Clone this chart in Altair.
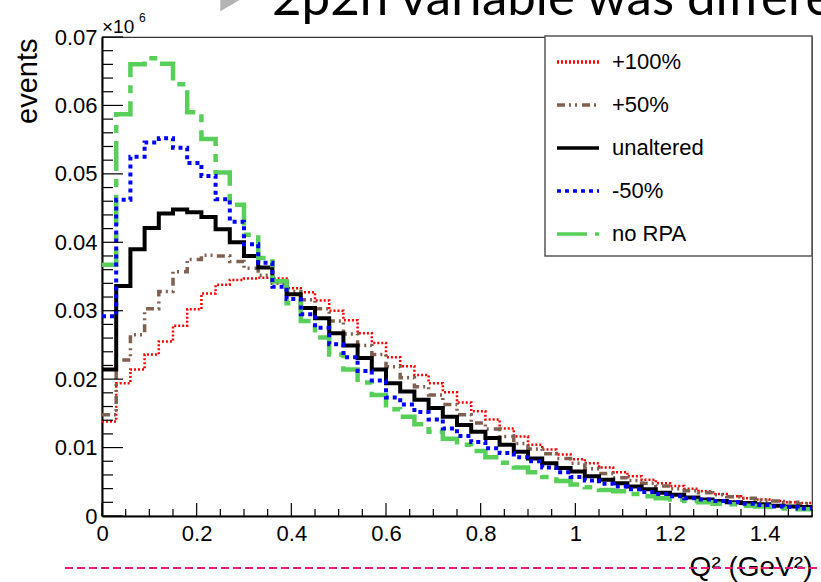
import altair as alt
import pandas as pd

# ---------------- data ----------------
bin_width = 0.03
n_bins = 50
edges = [round(i * bin_width, 4) for i in range(n_bins + 1)]

series_names = ["+100%", "+50%", "unaltered", "-50%", "no RPA"]

red = [0.0138, 0.0194, 0.0214, 0.0236, 0.0255, 0.0278, 0.0302, 0.0325, 0.0338, 0.0345,
       0.0347, 0.0348, 0.0347, 0.0333, 0.0327, 0.0315, 0.0300, 0.0286, 0.0267, 0.0253,
       0.0232, 0.0219, 0.0206, 0.0194, 0.0181, 0.0166, 0.0153, 0.0141, 0.0128, 0.0116,
       0.0104, 0.0097, 0.0090, 0.0083, 0.0077, 0.0071, 0.0064, 0.0058, 0.0053, 0.0048,
       0.0044, 0.0040, 0.0036, 0.0032, 0.0029, 0.0026, 0.0024, 0.0022, 0.0020, 0.0019]
brown = [0.0148, 0.0228, 0.0265, 0.0303, 0.0328, 0.0357, 0.0375, 0.0381, 0.0380, 0.0372,
         0.0362, 0.0352, 0.0340, 0.0328, 0.0316, 0.0303, 0.0285, 0.0266, 0.0249, 0.0236,
         0.0218, 0.0202, 0.0189, 0.0177, 0.0163, 0.0148, 0.0136, 0.0127, 0.0116, 0.0106,
         0.0098, 0.0091, 0.0084, 0.0077, 0.0069, 0.0062, 0.0056, 0.0052, 0.0048, 0.0044,
         0.0040, 0.0037, 0.0034, 0.0031, 0.0028, 0.0026, 0.0023, 0.0022, 0.0020, 0.0018]
black = [0.0214, 0.0336, 0.0390, 0.0421, 0.0442, 0.0448, 0.0444, 0.0437, 0.0419, 0.0400,
         0.0380, 0.0363, 0.0343, 0.0324, 0.0304, 0.0289, 0.0267, 0.0249, 0.0231, 0.0214,
         0.0194, 0.0182, 0.0170, 0.0158, 0.0145, 0.0133, 0.0123, 0.0114, 0.0104, 0.0094,
         0.0084, 0.0077, 0.0070, 0.0065, 0.0058, 0.0053, 0.0048, 0.0043, 0.0039, 0.0034,
         0.0031, 0.0027, 0.0024, 0.0022, 0.0020, 0.0019, 0.0017, 0.0015, 0.0014, 0.0013]
blue = [0.0292, 0.0462, 0.0525, 0.0546, 0.0552, 0.0538, 0.0516, 0.0497, 0.0463, 0.0430,
        0.0397, 0.0370, 0.0335, 0.0317, 0.0295, 0.0275, 0.0251, 0.0232, 0.0212, 0.0198,
        0.0173, 0.0163, 0.0152, 0.0141, 0.0128, 0.0117, 0.0108, 0.0099, 0.0092, 0.0086,
        0.0080, 0.0071, 0.0064, 0.0057, 0.0052, 0.0047, 0.0043, 0.0039, 0.0035, 0.0032,
        0.0029, 0.0026, 0.0024, 0.0022, 0.0020, 0.0018, 0.0016, 0.0014, 0.0013, 0.0011]
green = [0.0367, 0.0587, 0.0660, 0.0669, 0.0661, 0.0631, 0.0590, 0.0551, 0.0502, 0.0455,
         0.0411, 0.0377, 0.0343, 0.0311, 0.0285, 0.0261, 0.0236, 0.0214, 0.0195, 0.0177,
         0.0156, 0.0145, 0.0134, 0.0123, 0.0113, 0.0104, 0.0095, 0.0086, 0.0078, 0.0071,
         0.0064, 0.0057, 0.0051, 0.0046, 0.0042, 0.0038, 0.0036, 0.0032, 0.0029, 0.0026,
         0.0024, 0.0022, 0.0020, 0.0018, 0.0017, 0.0015, 0.0014, 0.0013, 0.0011, 0.0010]

y_major = [0, 0.01, 0.02, 0.03, 0.04, 0.05, 0.06, 0.07]
y_minor = [round(0.002 * i, 4) for i in range(36) if i % 5 != 0]
x_major = [0, 0.2, 0.4, 0.6, 0.8, 1.0, 1.2, 1.4]
x_minor = [round(0.05 * i, 3) for i in range(31) if i % 4 != 0]

# ---------------- styles ----------------
colors = ["#ff0000", "#806050", "#000000", "#0000ff", "#58cf58"]
dashes = [[2, 2], [8, 4, 2, 4, 2, 5], [1, 0], [4, 4], [30, 8, 8, 8]]
widths = {"+100%": 2.5, "+50%": 3.5, "unaltered": 4, "-50%": 4, "no RPA": 4.5}
values_by_series = {"+100%": red, "+50%": brown, "unaltered": black, "-50%": blue, "no RPA": green}

W, H = 710, 479
FONT = "Liberation Sans"

xscale = alt.Scale(domain=[0, 1.5], nice=False, zero=False)
yscale = alt.Scale(domain=[0, 0.07], nice=False, zero=False)

legend = alt.Legend(
    title=None, orient="none", legendX=443, legendY=-1,
    padding=3, symbolType="stroke", symbolSize=1764, symbolStrokeWidth=3.5,
    symbolOffset=7, labelOffset=11, rowPadding=9,
    labelFontSize=22, labelFont=FONT, labelColor="black",
)


def series_df(name):
    vals = values_by_series[name]
    return pd.DataFrame({
        "q": edges,
        "v": vals + [vals[-1]],
        "series": [name] * (n_bins + 1),
    })


x_axis = alt.Axis(values=x_major, labelExpr="format(datum.value, '~g')", ticks=False,
                  grid=False, domainColor="black", domainWidth=2, labelFontSize=22,
                  labelFont=FONT, labelColor="black", labelPadding=7, labelFlush=False,
                  labelOverlap=False,
                  title="Q² (GeV²)", titleFontSize=28, titleFont=FONT,
                  titleFontWeight="normal", titleAlign="right", titleX=W, titleY=59,
                  titleBaseline="alphabetic", titleColor="black")
y_axis = alt.Axis(values=y_major,
                  labelExpr="datum.value == 0 ? '0' : format(datum.value, '.2f')",
                  ticks=False, grid=False, domainColor="black", domainWidth=2,
                  labelFontSize=22, labelFont=FONT, labelColor="black", labelPadding=5,
                  labelFlush=False, labelOverlap=False,
                  title="events", titleFontSize=29, titleFont=FONT,
                  titleFontWeight="normal", titleAngle=270, titleAlign="right",
                  titleX=-66, titleY=1, titleBaseline="alphabetic", titleColor="black")

one = pd.DataFrame({"a": [0]})

# legend frame (decoration, drawn under the legend entries)
legend_box = alt.Chart(one).mark_rect(fill="white", stroke="#555555", strokeWidth=1.5).encode(
    x=alt.value(443), x2=alt.value(710), y=alt.value(-1), y2=alt.value(219))

layers = []
draw_order = ["+100%", "+50%", "unaltered", "no RPA", "-50%"]
for name in draw_order:
    enc = dict(
        x=alt.X("q:Q", scale=xscale, axis=x_axis),
        y=alt.Y("v:Q", scale=yscale, axis=y_axis),
        color=alt.Color("series:N", scale=alt.Scale(domain=series_names, range=colors), legend=legend),
        strokeDash=alt.StrokeDash("series:N", scale=alt.Scale(domain=series_names, range=dashes), legend=legend),
    )
    layers.append(
        alt.Chart(series_df(name)).mark_line(interpolate="step-after", strokeWidth=widths[name],
                                             clip=True, strokeCap="butt").encode(**enc)
    )

# axis ticks pointing inwards (ROOT style)
ytick_major = alt.Chart(pd.DataFrame({"v": y_major})).mark_rule(color="black", strokeWidth=1.2).encode(
    y=alt.Y("v:Q", scale=yscale, axis=y_axis), x=alt.value(0), x2=alt.value(21))
ytick_minor = alt.Chart(pd.DataFrame({"v": y_minor})).mark_rule(color="black", strokeWidth=1.2).encode(
    y=alt.Y("v:Q", scale=yscale, axis=y_axis), x=alt.value(0), x2=alt.value(11))
xtick_major = alt.Chart(pd.DataFrame({"q": x_major})).mark_rule(color="black", strokeWidth=1.2).encode(
    x=alt.X("q:Q", scale=xscale, axis=x_axis), y=alt.value(H), y2=alt.value(H - 13))
xtick_minor = alt.Chart(pd.DataFrame({"q": x_minor})).mark_rule(color="black", strokeWidth=1.2).encode(
    x=alt.X("q:Q", scale=xscale, axis=x_axis), y=alt.value(H), y2=alt.value(H - 7))

exp_label = alt.Chart(one).mark_text(font=FONT, fontSize=19, align="left", baseline="alphabetic",
                                     color="black").encode(
    x=alt.value(0), y=alt.value(-4), text=alt.value("×10"))
exp_sup = alt.Chart(one).mark_text(font=FONT, fontSize=12, align="left", baseline="alphabetic",
                                   color="black").encode(
    x=alt.value(37), y=alt.value(-15), text=alt.value("6"))

slide_title = alt.Chart(one).mark_text(font="Lato", fontSize=51, align="left", baseline="alphabetic",
                                       color="black").encode(
    x=alt.value(170), y=alt.value(-22), text=alt.value("2p2h variable was different"))
bullet = alt.Chart(one).mark_point(shape="triangle-right", filled=True, color="#b4b4b4",
                                   size=500, opacity=1).encode(
    x=alt.value(128), y=alt.value(-37))

pink = alt.Chart(one).mark_rule(color="#e8197a", strokeDash=[8, 4], strokeWidth=2).encode(
    x=alt.value(-37), x2=alt.value(719), y=alt.value(531))

chart = alt.layer(
    pink, legend_box, *layers, ytick_major, ytick_minor, xtick_major, xtick_minor,
    exp_label, exp_sup, slide_title, bullet
).properties(
    width=W, height=H,
    autosize=alt.AutoSizeParams(type="none"),
    padding={"left": 102, "top": 37, "right": 9, "bottom": 66},
    background="white",
).configure_view(
    stroke="#333333", strokeWidth=1.2
)

chart.save("out.html", embed_options={"renderer": "svg", "actions": False})
